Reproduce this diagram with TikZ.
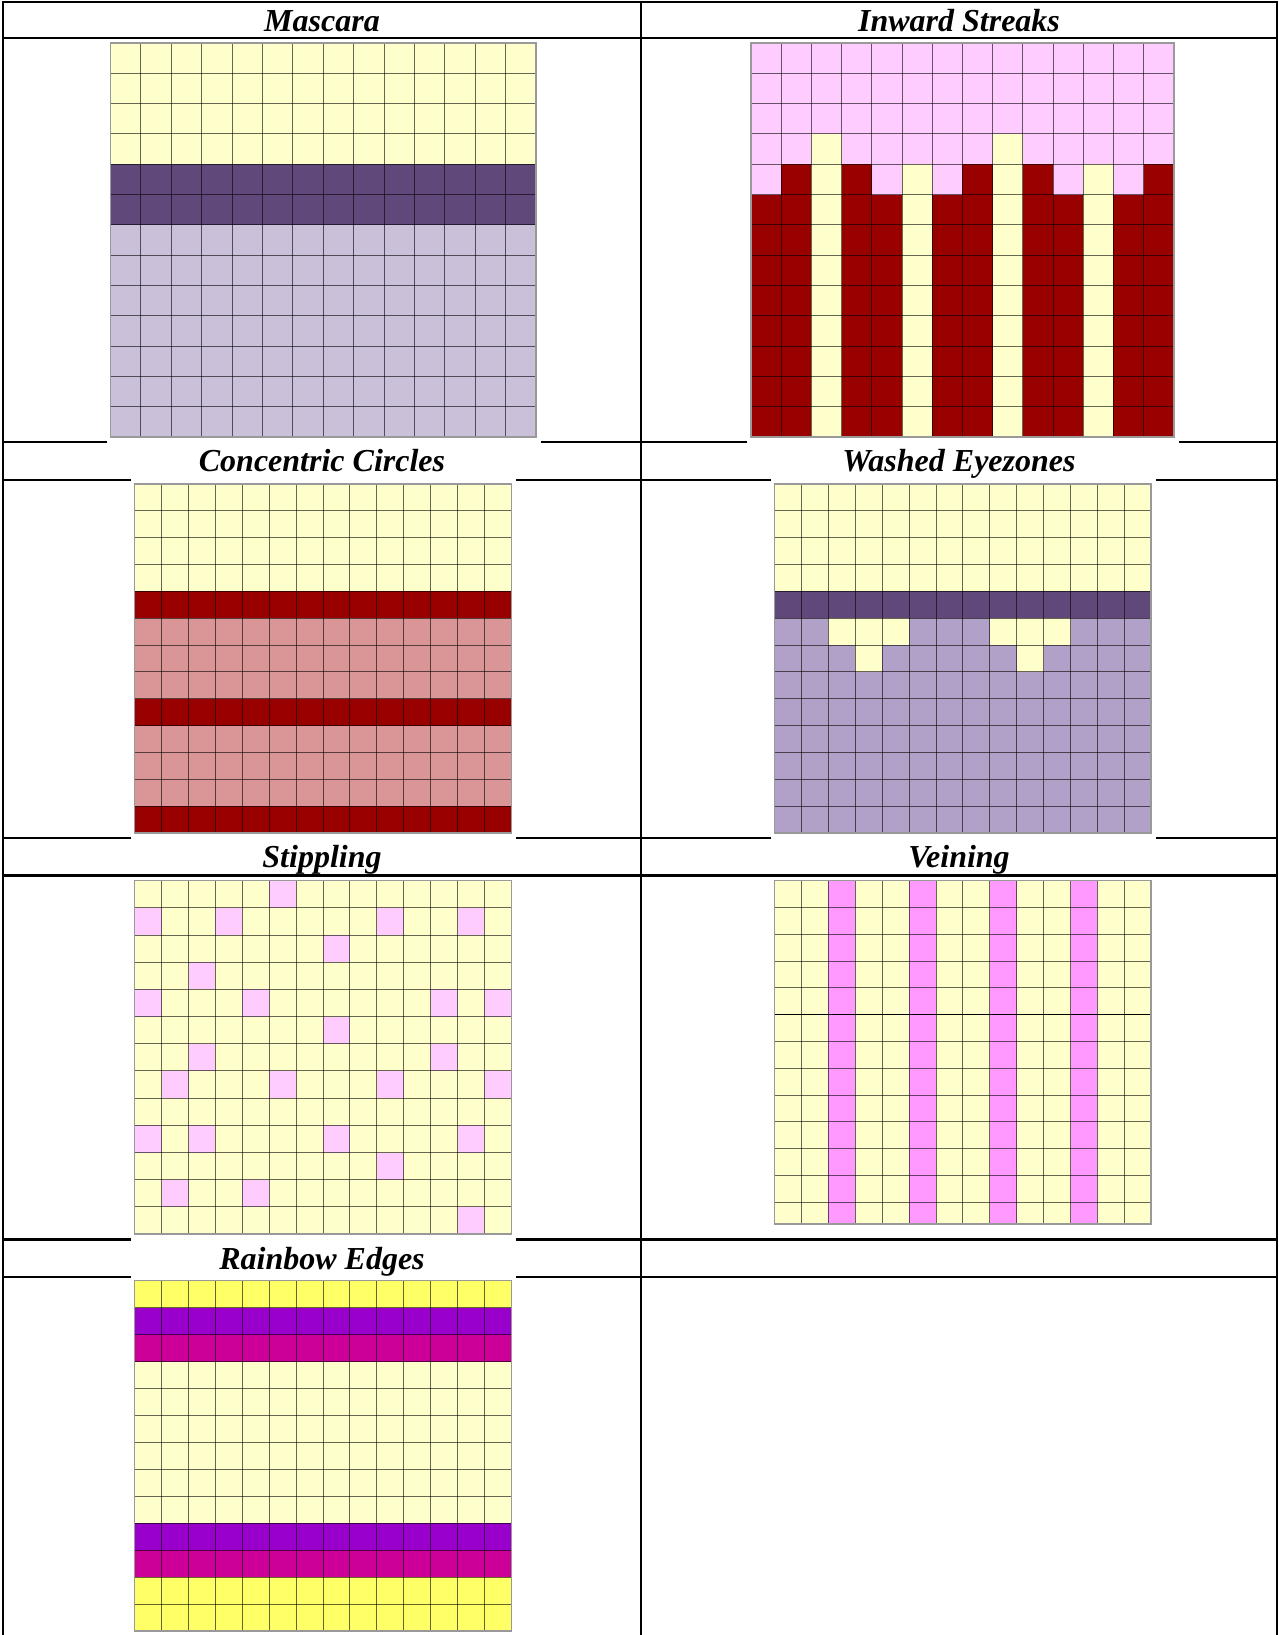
\documentclass[tikz,border=0pt]{standalone}
\usepackage{fontspec}
\setmainfont{Liberation Serif}

\definecolor{krem}{RGB}{255,255,204}
\definecolor{tmfialova}{RGB}{96,73,122}
\definecolor{levandule}{RGB}{203,192,218}
\definecolor{bledfialova}{RGB}{177,160,199}
\definecolor{tmcervena}{RGB}{153,0,0}
\definecolor{losos}{RGB}{218,150,150}
\definecolor{svruzova}{RGB}{255,204,255}
\definecolor{ruzova}{RGB}{255,153,255}
\definecolor{zluta}{RGB}{255,255,102}
\definecolor{fialova}{RGB}{153,0,204}
\definecolor{purpur}{RGB}{204,0,153}

\tikzset{
  tabulka/.style={line width=2.3pt},
  titulek/.style={anchor=base, inner sep=0pt, font=\fontsize{32}{36}\selectfont\bfseries\itshape},
  ramecek/.style={fill=white},
  mrizka/.style={draw=black, draw opacity=0.6, line width=1pt},
  okraj/.style={draw=black!40, line width=1.5pt},
}

% mrizka bunek
\newcommand{\sitka}[2]{%
  \foreach \i in {0,...,#1} {\draw[mrizka] (\i,0) -- (\i,#2);}
  \foreach \j in {0,...,#2} {\draw[mrizka] (0,\j) -- (#1,\j);}
  \draw[okraj] (0,0) rectangle (#1,#2);
}

\begin{document}
\begin{tikzpicture}[x=1pt, y=-1pt]
    \useasboundingbox (0,0) rectangle (1279,1635);

    % tabulka
    \draw[tabulka, line cap=rect] (3,2) -- (1277,2);
    \draw[tabulka] (3,2) -- (3,1635);
    \draw[tabulka] (641,2) -- (641,1635);
    \draw[tabulka] (1277,2) -- (1277,1635);
    \foreach \y in {38.3,442,480,838,875.5,1239.5,1276.7}
        \draw[tabulka] (3,\y) -- (1277,\y);

    % nadpisy
    \node[titulek] (mascara) at (322,31.6) {Mascara};
    \node[titulek] (streaks) at (959,31.6) {Inward Streaks};
    \node[titulek] (circles) at (322,471.7) {Concentric Circles};
    \node[titulek] (eyezones) at (959,471.7) {Washed Eyezones};
    \node[titulek] (stippling) at (322,867.3) {Stippling};
    \node[titulek] (veining) at (959,867.3) {Veining};
    \node[titulek] (rainbow) at (322,1269.3) {Rainbow Edges};

    % bile podklady obrazku
    \fill[ramecek] (106.5,38.8) rectangle (541,443.5);
    \fill[ramecek] (747,38.8) rectangle (1179,443.5);
    \fill[ramecek] (130.5,478.5) rectangle (516,839.5);
    \fill[ramecek] (770.5,478.5) rectangle (1156,839.5);
    \fill[ramecek] (130.5,876.8) rectangle (516,1241);
    \fill[ramecek] (770.5,876.8) rectangle (1156,1229);
    \fill[ramecek] (130.5,1275.5) rectangle (516,1635);

    % Mascara
    \begin{scope}[shift={(110.5,43)}, x=30.4pt, y=-30.3pt]
        \fill[krem] (0,0) rectangle (14,4);
        \fill[tmfialova] (0,4) rectangle (14,6);
        \fill[levandule] (0,6) rectangle (14,13);
        \sitka{14}{13}
    \end{scope}

    % Inward Streaks
    \begin{scope}[shift={(751,43)}, x=30.2pt, y=-30.3pt]
        \fill[svruzova] (0,0) rectangle (14,5);
        \fill[tmcervena] (0,5) rectangle (14,13);
        \foreach \c in {2,4,8,10,14}
            \fill[tmcervena] (\c-1,4) rectangle (\c,5);
        \foreach \c/\z in {3/3,6/4,9/3,12/4}
            \fill[krem] (\c-1,\z) rectangle (\c,13);
        \sitka{14}{13}
    \end{scope}

    % Concentric Circles
    \begin{scope}[shift={(134.7,484)}, x=26.9pt, y=-26.85pt]
        \fill[krem] (0,0) rectangle (14,4);
        \fill[tmcervena] (0,4) rectangle (14,5);
        \fill[losos] (0,5) rectangle (14,8);
        \fill[tmcervena] (0,8) rectangle (14,9);
        \fill[losos] (0,9) rectangle (14,12);
        \fill[tmcervena] (0,12) rectangle (14,13);
        \sitka{14}{13}
    \end{scope}

    % Washed Eyezones
    \begin{scope}[shift={(774.6,484)}, x=26.9pt, y=-26.85pt]
        \fill[krem] (0,0) rectangle (14,4);
        \fill[tmfialova] (0,4) rectangle (14,5);
        \fill[bledfialova] (0,5) rectangle (14,13);
        \foreach \c in {2,8} {
            \fill[krem] (\c,5) rectangle (\c+3,6);
            \fill[krem] (\c+1,6) rectangle (\c+2,7);
        }
        \sitka{14}{13}
    \end{scope}

    % Stippling
    \begin{scope}[shift={(134.7,880.7)}, x=26.9pt, y=-27.18pt]
        \fill[krem] (0,0) rectangle (14,13);
        \foreach \c/\r in {6/1,1/2,4/2,10/2,13/2,8/3,3/4,1/5,5/5,12/5,14/5,
                           8/6,3/7,12/7,2/8,6/8,10/8,14/8,1/10,3/10,8/10,13/10,
                           10/11,2/12,5/12,13/13}
            \fill[svruzova] (\c-1,\r-1) rectangle (\c,\r);
        \sitka{14}{13}
    \end{scope}

    % Veining
    \begin{scope}[shift={(774.6,880.7)}, x=26.9pt, y=-26.8pt]
        \fill[krem] (0,0) rectangle (14,12.81);
        \foreach \c in {3,6,9,12}
            \fill[ruzova] (\c-1,0) rectangle (\c,12.81);
        \foreach \i in {0,...,14} {\draw[mrizka] (\i,0) -- (\i,12.81);}
        \foreach \j in {0,...,12} {\draw[mrizka] (0,\j) -- (14,\j);}
        \draw[black, line width=0.7pt] (0,5) -- (14,5);
        \draw[okraj] (0,0) rectangle (14,12.81);
    \end{scope}

    % Rainbow Edges
    \begin{scope}[shift={(134.7,1280.7)}, x=26.9pt, y=-26.95pt]
        \fill[zluta] (0,0) rectangle (14,1);
        \fill[fialova] (0,1) rectangle (14,2);
        \fill[purpur] (0,2) rectangle (14,3);
        \fill[krem] (0,3) rectangle (14,9);
        \fill[fialova] (0,9) rectangle (14,10);
        \fill[purpur] (0,10) rectangle (14,11);
        \fill[zluta] (0,11) rectangle (14,13);
        \sitka{14}{13}
    \end{scope}

\end{tikzpicture}
\end{document}
